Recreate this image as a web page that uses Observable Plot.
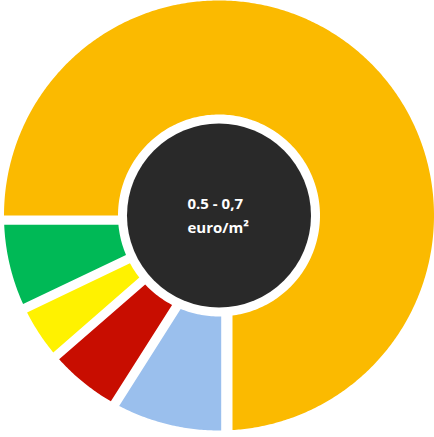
<!DOCTYPE html>
<html><head><meta charset="utf-8">
<script src="https://cdn.jsdelivr.net/npm/d3@7"></script>
<script src="https://cdn.jsdelivr.net/npm/@observablehq/plot@0.6"></script>
<style>html,body{margin:0;padding:0;background:#fff;overflow:hidden}</style>
</head><body><div id="chart"></div>
<script>
// Data
const categories = ["Segment 1", "Segment 2", "Segment 3", "Segment 4", "Segment 5"];
const values = [75, 9, 4.6, 4.3, 7.1];
const colors = ["#FBBA00", "#9ABFED", "#C80D00", "#FFF200", "#00B956"];
const centerLabel = ["0.5 - 0,7", "euro/m²"];

// Layout / style
const W = 434, H = 437, cx = 218.5, cy = 215;
const R = 215, r0 = 101, hole = 92;
// signed perpendicular offsets (px) of each slice's start / end edge
const edgeOffsets = [[0, -13.5], [-2.2, -17.7], [-8.3, -3.5], [5.5, -4.6], [4.6, -9.3]];

const pie = d3.pie().sort(null).value(d => d.value)
  .startAngle(-Math.PI / 2).endAngle(1.5 * Math.PI);
const arcs = pie(categories.map((c, i) => ({category: c, value: values[i]})));

const pts = [];
arcs.forEach((a, k) => {
  const [ds, de] = edgeOffsets[k];
  const span = r => [a.startAngle + Math.asin(ds / r), a.endAngle + Math.asin(de / r)];
  const [o0, o1] = span(R), [i0, i1] = span(r0);
  const n = Math.max(8, Math.ceil((o1 - o0) * R / 2));
  for (let j = 0; j <= n; j++) {
    const t = o0 + (o1 - o0) * j / n;
    pts.push({category: a.data.category, x: R * Math.sin(t), y: -R * Math.cos(t)});
  }
  const m = Math.max(8, Math.ceil((i1 - i0) * r0 / 2));
  for (let j = m; j >= 0; j--) {
    const t = i0 + (i1 - i0) * j / m;
    pts.push({category: a.data.category, x: r0 * Math.sin(t), y: -r0 * Math.cos(t)});
  }
});

const chart = Plot.plot({
  width: W, height: H, margin: 0,
  style: {background: "white"},
  x: {domain: [-cx, W - cx], range: [0, W], axis: null},
  y: {domain: [-cy, H - cy], range: [0, H], axis: null},
  color: {type: "categorical", domain: categories, range: colors},
  marks: [
    Plot.line(pts, {x: "x", y: "y", z: "category", fill: "category", stroke: "none"}),
    Plot.dot([{x: 0, y: 0}], {x: "x", y: "y", r: hole, fill: "#292929", stroke: "none"}),
    Plot.text([centerLabel.join("\n")], {
      x: () => -31.5, y: () => 0, text: d => d,
      textAnchor: "start", lineAnchor: "middle", lineHeight: 1.6,
      fill: "white", fontSize: 15, fontWeight: "bold", fontFamily: "Open Sans", dy: -2
    })
  ]
});
document.getElementById("chart").appendChild(chart);
</script>
</body></html>
